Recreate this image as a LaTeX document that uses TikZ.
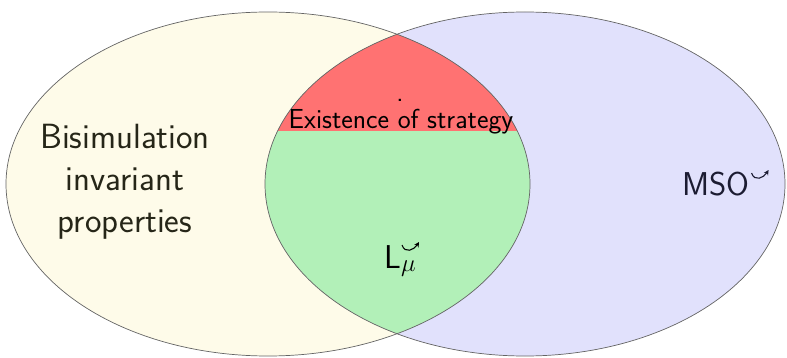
\documentclass[tikz,border=0pt]{standalone}
\usepackage{fontspec}
\usetikzlibrary{arrows.meta,calc}
\definecolor{yfill}{RGB}{254,251,233}
\definecolor{bfill}{RGB}{225,225,252}
\definecolor{rfill}{RGB}{255,114,114}
\definecolor{gfill}{RGB}{178,240,184}
\definecolor{edge}{RGB}{100,100,100}
\definecolor{bistext}{RGB}{38,38,24}
\definecolor{msotext}{RGB}{28,28,50}
\tikzset{
  outline/.style={draw=edge,line width=0.7pt},
  bigtext/.style={font=\sffamily\fontsize{35}{42}\selectfont},
  msofont/.style={font=\sffamily\fontsize{33}{40}\selectfont},
  midtext/.style={font=\sffamily\fontsize{27.5}{32}\selectfont},
  arcsym/.style={line width=1.1pt,-{Stealth[length=5pt,width=5pt]}}
}
\begin{document}
\begin{tikzpicture}[x=1pt,y=-1pt]
\useasboundingbox (0,0) rectangle (787,358);
\fill[yfill] (268,184) ellipse [x radius=262, y radius=172];
\fill[bfill] (525,184) ellipse [x radius=260, y radius=172];
\begin{scope}
  \clip (268,184) ellipse [x radius=262, y radius=172];
  \fill[gfill] (525,184) ellipse [x radius=260, y radius=172];
  \clip (525,184) ellipse [x radius=260, y radius=172];
  \fill[rfill] (0,0) rectangle (787,131);
\end{scope}
\draw[outline] (268,184) ellipse [x radius=262, y radius=172];
\draw[outline] (525,184) ellipse [x radius=260, y radius=172];

\node[bigtext,align=center,text=bistext] (bis) at (125,182) {Bisimulation\\invariant\\properties};
\node[midtext,anchor=base] (ex) at (401,129) {Existence of strategy};
\node[midtext,anchor=base] (dot) at (400,102) {.};
\node[msofont,anchor=base west,inner sep=0pt] (lmu) at (384,268) {L$_{\mu}$};
\node[msofont,anchor=base west,inner sep=0pt,text=msotext] (mso) at (682,196) {MSO};
\draw[arcsym,draw=msotext] ($(mso.base east)+(2,-23)$) .. controls +(3,9) and +(-5,8) .. ($(mso.base east)+(19,-26)$);
\draw[arcsym] ($(lmu.base west)+(18,-23)$) .. controls +(3,9) and +(-5,8) .. ($(lmu.base west)+(35,-26)$);
\end{tikzpicture}
\end{document}
